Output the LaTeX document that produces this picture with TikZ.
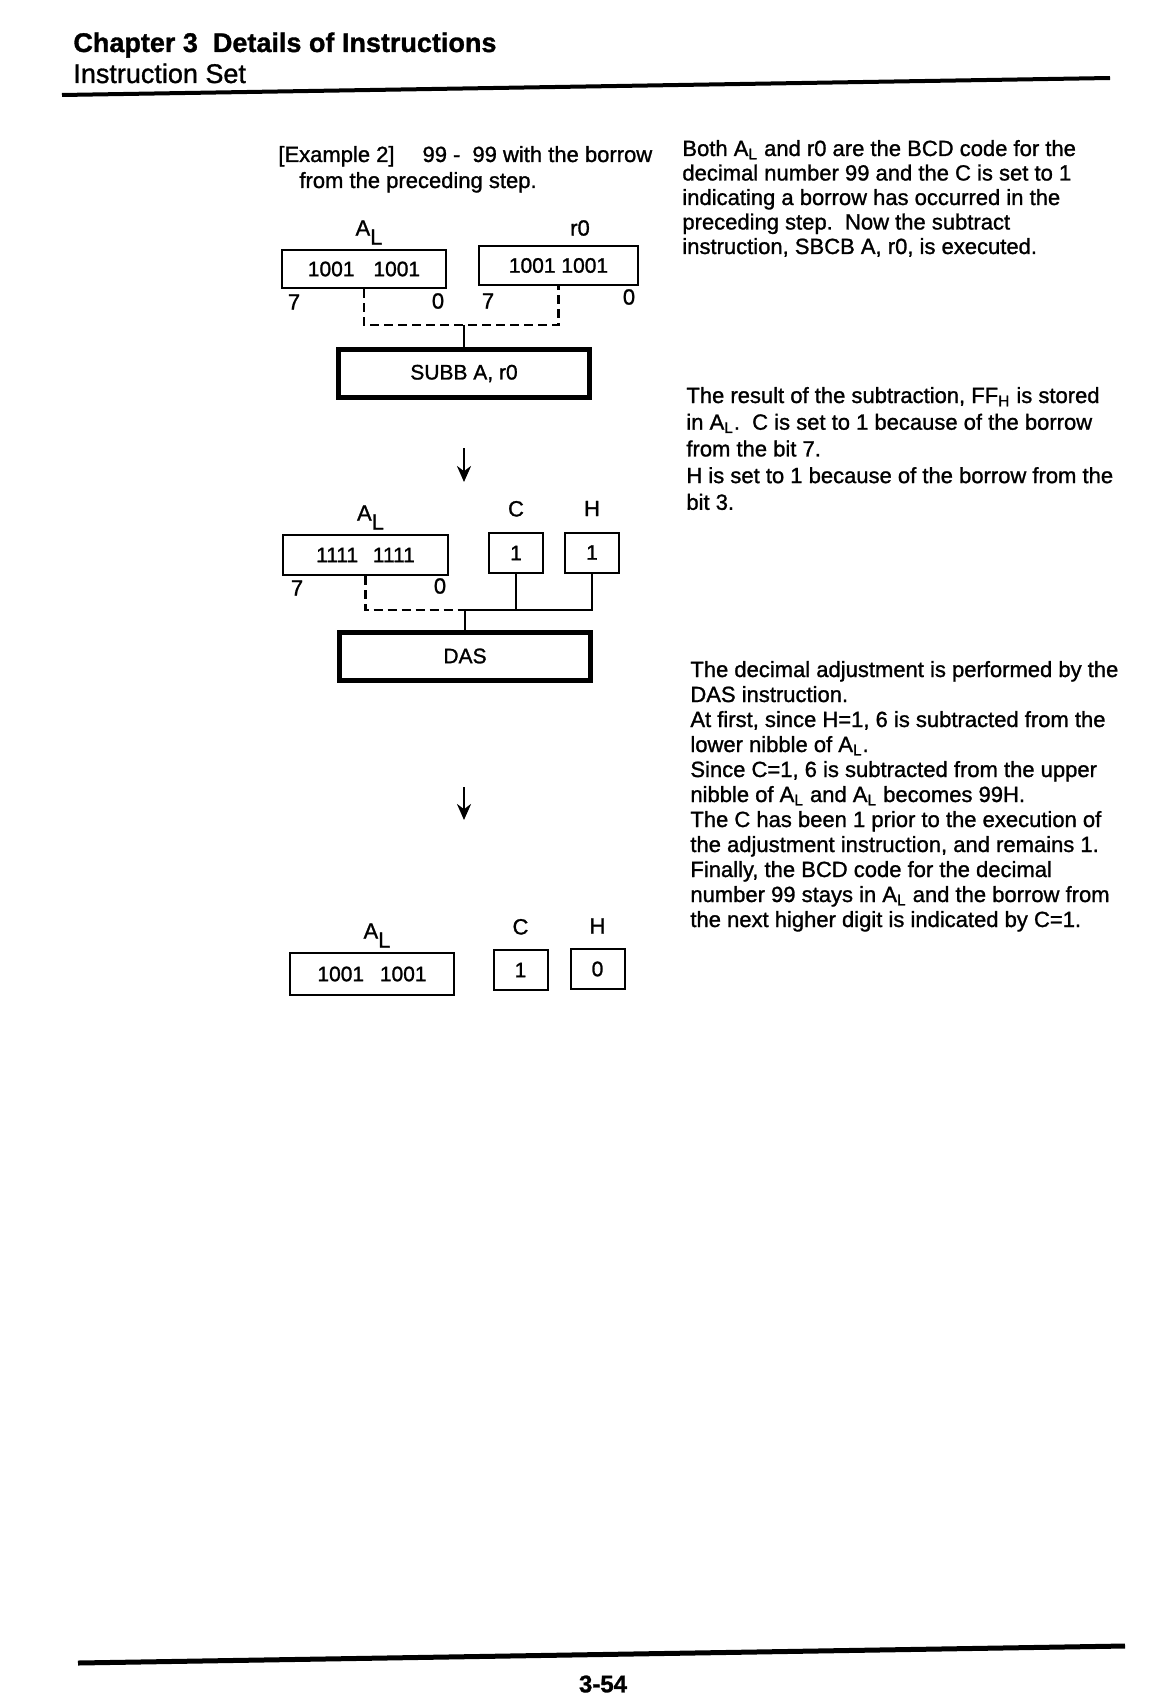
\documentclass[tikz,border=0pt]{standalone}
\usepackage{fontspec}
\setmainfont{Liberation Sans}[FakeBold=1.2]
\usetikzlibrary{arrows.meta,positioning}

\newcommand{\AL}{A\raisebox{-4.5pt}{L}}
\newcommand{\ALs}{A\textsubscript{L}}

\begin{document}
\begin{tikzpicture}[x=0.5pt, y=-0.5pt,
    reg node/.style={draw, line width=1pt, inner sep=0pt, font=\fontsize{10.5}{12}\selectfont},
    flag node/.style={reg node, minimum width=27pt, minimum height=20pt},
    op node/.style={draw, line width=2.5pt, inner sep=0pt, minimum width=125.5pt, minimum height=24pt, font=\fontsize{10.5}{12}\selectfont},
    lbl node/.style={inner sep=0pt, font=\fontsize{11}{12}\selectfont},
    txt node/.style={inner sep=0pt, anchor=base west, font=\fontsize{11}{13}\selectfont},
    wire/.style={line width=1.1pt},
    dash wire/.style={wire, dash pattern=on 4.5pt off 2.5pt},
    flow/.style={line width=1.3pt, -{Stealth[length=8pt, width=7pt]}}]

  \useasboundingbox (0,0) rectangle (1156,1696);

  % page head
  \node[txt node, font=\fontsize{13.5}{15}\selectfont\bfseries] (chap) at (73,52) {Chapter 3\ \ Details of Instructions};
  \node[txt node, font=\fontsize{13.5}{15}\selectfont] (sect) at (73,83) {Instruction Set};
  \draw[line width=2pt] (62,95) -- (1110,78);

  \node[txt node] (ex1) at (278,162) {[Example 2]\hspace{14pt}99 -\hspace{6pt}99 with the borrow};
  \node[txt node] (ex2) at (299,188) {from the preceding step.};

  % SUBB step
  \node[reg node, minimum width=82pt, minimum height=19pt] (alA) at (364,269) {1001\hspace{0.9em}1001};
  \node[reg node, minimum width=79.5pt, minimum height=19.5pt] (r0A) at (558.5,265.5) {1001 1001};
  \node[lbl node, above=2pt of alA, xshift=2.5pt] (alAl) {\AL};
  \node[lbl node] (r0Al) at (580,228) {r0};
  \node[lbl node] (a7) at (294,302) {7};
  \node[lbl node] (a0) at (438,301) {0};
  \node[lbl node] (b7) at (488,301) {7};
  \node[lbl node] (b0) at (629,297) {0};
  \node[op node] (subb) at (464,373.5) {SUBB A, r0};

  \coordinate (jA) at (464,325);
  \draw[dash wire] (alA.south) |- (jA) -| (r0A.south);
  \draw[wire] (jA) -- (subb.north);

  \coordinate (s1) at (464,448);
  \coordinate (e1) at (464,482);
  \draw[flow] (s1) -- (e1);

  % DAS step
  \node[reg node, minimum width=82.5pt, minimum height=20pt] (alB) at (365.5,555) {1111\hspace{0.7em}1111};
  \node[flag node] (cB) at (516,553) {1};
  \node[flag node] (hB) at (592,552.5) {1};
  \node[lbl node, above=2pt of alB, xshift=2.5pt] (alBl) {\AL};
  \node[lbl node, above=7.5pt of cB] (cBl) {C};
  \node[lbl node, above=7.5pt of hB] (hBl) {H};
  \node[lbl node] (c7) at (297,588) {7};
  \node[lbl node] (c0) at (440,586) {0};
  \node[op node] (das) at (465,656) {DAS};

  \coordinate (jB) at (465,610);
  \draw[dash wire] (alB.south) |- (jB);
  \draw[wire] (jB) -| (hB.south);
  \draw[wire] (cB.south) -- (cB.south |- jB);
  \draw[wire] (jB) -- (das.north);

  \coordinate (s2) at (464,787);
  \coordinate (e2) at (464,820);
  \draw[flow] (s2) -- (e2);

  % result
  \node[reg node, minimum width=82pt, minimum height=21pt] (alC) at (372,974) {1001\hspace{0.75em}1001};
  \node[flag node] (cC) at (520.5,970) {1};
  \node[flag node] (hC) at (597.5,969) {0};
  \node[lbl node, above=2pt of alC, xshift=2.5pt] (alCl) {\AL};
  \node[lbl node, above=7pt of cC] (cCl) {C};
  \node[lbl node, above=7pt of hC] (hCl) {H};

  % notes
  \foreach \lineText [count=\i] in {
      {Both \ALs\ and r0 are the BCD code for the},
      {decimal number 99 and the C is set to 1},
      {indicating a borrow has occurred in the},
      {preceding step.\ \ Now the subtract},
      {instruction, SBCB A, r0, is executed.}}
    \node[txt node] (pa\i) at (682,{156+24.5*(\i-1)}) {\lineText};

  \foreach \lineText [count=\i] in {
      {The result of the subtraction, FF\textsubscript{H} is stored},
      {in \ALs.\ \ C is set to 1 because of the borrow},
      {from the bit 7.},
      {H is set to 1 because of the borrow from the},
      {bit 3.}}
    \node[txt node] (pb\i) at (686,{403+26.7*(\i-1)}) {\lineText};

  \foreach \lineText [count=\i] in {
      {The decimal adjustment is performed by the},
      {DAS instruction.},
      {At first, since H=1, 6 is subtracted from the},
      {lower nibble of \ALs.},
      {Since C=1, 6 is subtracted from the upper},
      {nibble of \ALs\ and \ALs\ becomes 99H.},
      {The C has been 1 prior to the execution of},
      {the adjustment instruction, and remains 1.},
      {Finally, the BCD code for the decimal},
      {number 99 stays in \ALs\ and the borrow from},
      {the next higher digit is indicated by C=1.}}
    \node[txt node] (pc\i) at (690,{677+25*(\i-1)}) {\lineText};

  % page foot
  \draw[line width=2.5pt] (78,1663) -- (1125,1646);
  \node[inner sep=0pt, font=\fontsize{12}{14}\selectfont\bfseries] (pg) at (603,1684) {3-54};

\end{tikzpicture}
\end{document}
